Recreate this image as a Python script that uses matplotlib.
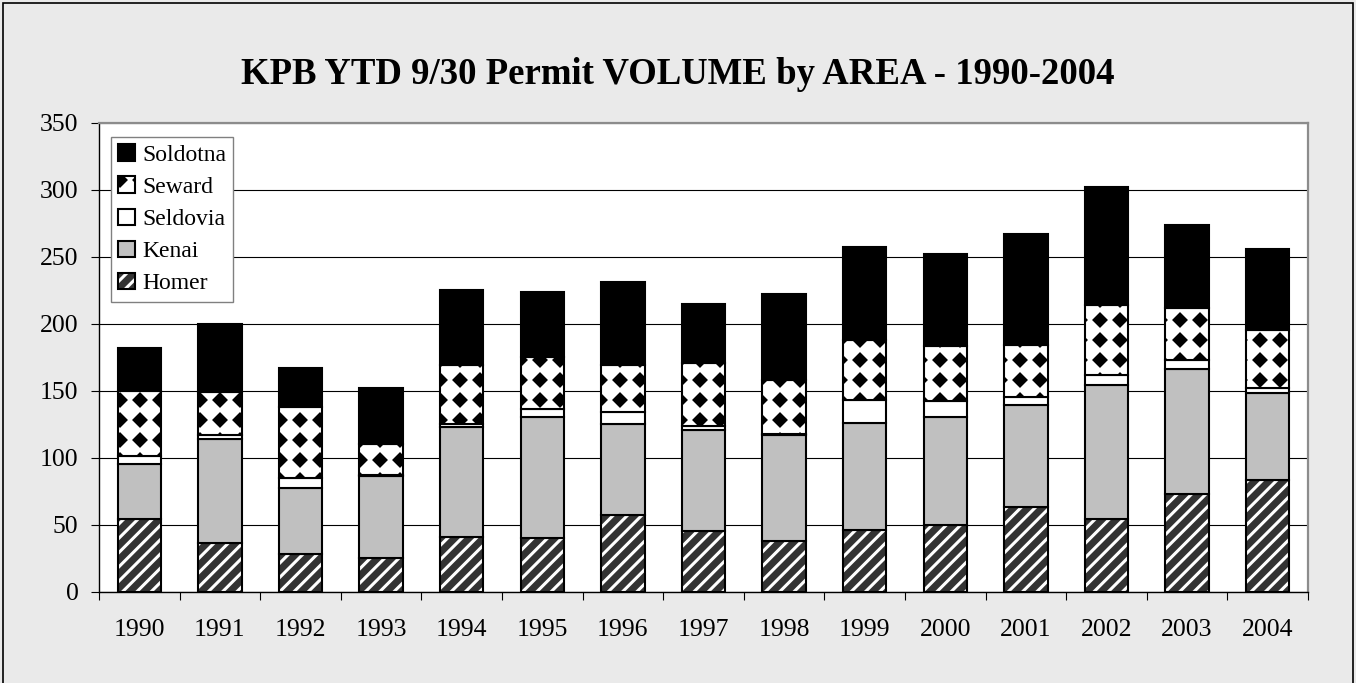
"""KPB permit volume by area, 1990-2004 - stacked bars with the old Excel fills."""
import numpy as np
import matplotlib
matplotlib.use("Agg")
import matplotlib.pyplot as plt
import matplotlib.hatch as mhatch
from matplotlib.path import Path
from matplotlib.patches import Rectangle
from matplotlib.legend_handler import HandlerTuple

years = [str(y) for y in range(1990, 2005)]
homer = [54, 36, 28, 25, 41, 40, 57, 45, 38, 46, 50, 63, 54, 73, 83]
kenai = [41, 78, 49, 61, 82, 90, 68, 76, 79, 80, 80, 76, 100, 93, 65]
seldovia = [6, 3, 8, 1, 2, 6, 9, 3, 1, 17, 12, 6, 8, 7, 4]
seward = [49, 32, 53, 23, 44, 39, 35, 47, 40, 45, 41, 39, 52, 39, 43]
soldotna = [32, 51, 29, 42, 56, 49, 62, 44, 64, 69, 69, 83, 88, 62, 61]

TITLE = "KPB YTD 9/30 Permit VOLUME by AREA - 1990-2004"


# --- custom hatches: denser diagonal stripes ('/') and a diamond grid ('*')
class Stripes(mhatch.NorthEastHatch):
    def __init__(self, hatch, density):
        # must stay even so the 1-inch hatch tile wraps without seams
        self.num_lines = int(hatch.count('/') * 14)
        self.num_vertices = (self.num_lines + 1) * 2 if self.num_lines else 0


class Diamonds(mhatch.HatchPatternBase):
    def __init__(self, hatch, density):
        self.n = hatch.count('*') * 5
        self.num_vertices = (self.n + 1) ** 2 * 5 if self.n else 0

    def set_vertices_and_codes(self, vertices, codes):
        h = 0.058
        shape = np.array([[0, h], [-h, 0], [0, -h], [h, 0], [0, h]])
        pos = np.linspace(0, 1, self.n + 1)
        gx, gy = np.meshgrid(pos, pos)
        centres = np.column_stack([gx.ravel(), gy.ravel()])
        vertices[:] = (centres[:, None, :] + shape[None]).reshape(-1, 2)
        one = [Path.MOVETO, Path.LINETO, Path.LINETO, Path.LINETO, Path.CLOSEPOLY]
        codes[:] = np.tile(one, len(centres))


mhatch._hatch_types = [Stripes if t is mhatch.NorthEastHatch else
                       Diamonds if t is mhatch.Stars else t
                       for t in mhatch._hatch_types]

plt.rcParams['font.family'] = ['Liberation Serif', 'DejaVu Serif']
plt.rcParams['hatch.linewidth'] = 2.2

fig = plt.figure(figsize=(13.56, 6.83), dpi=100, facecolor='#eaeaea')
ax = fig.add_axes([0.0730, 0.1337, 0.8916, 0.6867])
ax.set_facecolor('white')

x = np.arange(len(years))
w = 0.54
lw = 1.5
b1 = np.array(homer)
b2 = b1 + np.array(kenai)
b3 = b2 + np.array(seldovia)
b4 = b3 + np.array(seward)

hom_fill = ax.bar(x, homer, w, color='#333333', edgecolor='white', linewidth=0, hatch='/')
hom_edge = ax.bar(x, homer, w, fill=False, edgecolor='black', linewidth=lw)
ken = ax.bar(x, kenai, w, bottom=b1, color='#c0c0c0', edgecolor='black', linewidth=lw)
sel = ax.bar(x, seldovia, w, bottom=b2, color='white', edgecolor='black', linewidth=lw)
sew = ax.bar(x, seward, w, bottom=b3, color='white', edgecolor='black', linewidth=lw, hatch='*')
sol = ax.bar(x, soldotna, w, bottom=b4, color='black', edgecolor='black', linewidth=lw)

ax.set_xlim(-0.5, len(years) - 0.5)
ax.set_ylim(0, 350)
ax.set_yticks(range(0, 351, 50))
ax.set_xticks(np.arange(len(years) + 1) - 0.5)
ax.set_xticklabels([])
ax.set_xticks(x, minor=True)
ax.set_xticklabels(years, minor=True)
ax.tick_params(axis='x', which='major', direction='out', length=5.8, width=0.8)
ax.tick_params(axis='x', which='minor', length=0, pad=20, labelsize=18.5)
ax.tick_params(axis='y', direction='out', length=5.8, width=0.8, pad=9, labelsize=18.5)

ax.yaxis.grid(True, color='black', linewidth=0.8)
ax.set_axisbelow(True)
for side in ('left', 'bottom'):
    ax.spines[side].set_color('black')
    ax.spines[side].set_linewidth(1.0)
for side in ('top', 'right'):
    ax.spines[side].set_color('#8c8c8c')
    ax.spines[side].set_linewidth(1.6)

leg = ax.legend([sol, sew, sel, ken, (hom_fill, hom_edge)],
                ['Soldotna', 'Seward', 'Seldovia', 'Kenai', 'Homer'],
                handler_map={tuple: HandlerTuple(ndivide=1)},
                loc='upper left', bbox_to_anchor=(0.0097, 0.969), borderaxespad=0,
                fontsize=17, handlelength=0.72, handleheight=0.7, handletextpad=0.3,
                labelspacing=0.45, borderpad=0.3, fancybox=False, framealpha=1,
                edgecolor='#808080')
leg.get_frame().set_linewidth(1.0)

fig.text(0.5, 1 - 75 / 683, TITLE, ha='center', va='center',
         fontsize=26.5, fontweight='bold')
fig.patches.append(Rectangle((3 / 1356, -0.02), 1350 / 1356, 1.02 - 3 / 683,
                             transform=fig.transFigure, fill=False,
                             edgecolor='black', linewidth=1.2))

fig.savefig('out.png', dpi=100, facecolor=fig.get_facecolor())
